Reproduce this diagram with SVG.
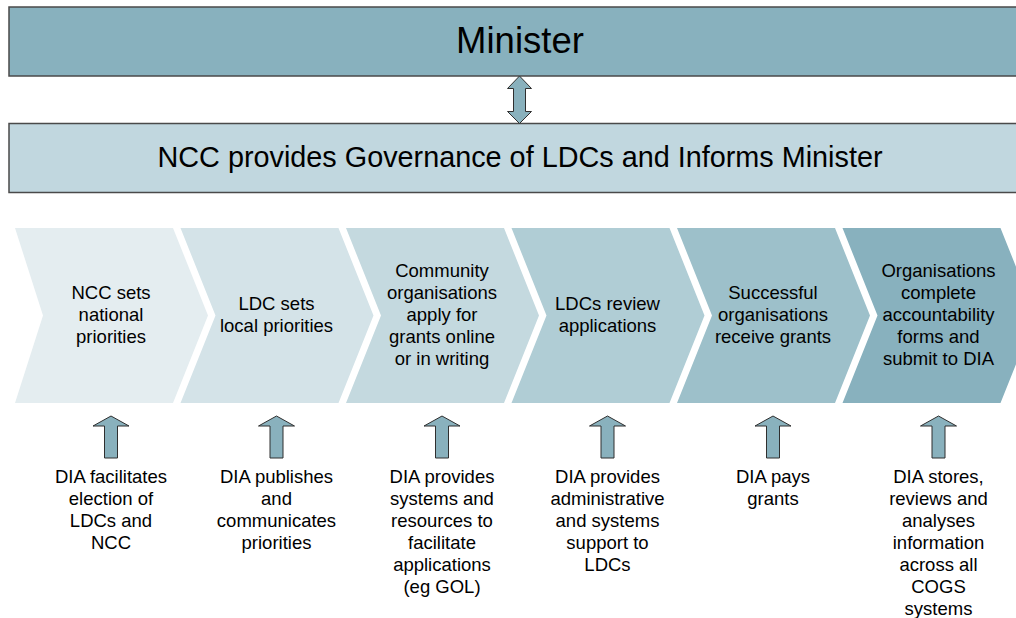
<svg xmlns="http://www.w3.org/2000/svg" width="1016" height="618" viewBox="0 0 1016 618">
<style>
text{font-family:"Liberation Sans",Arial,sans-serif;fill:#000;text-anchor:middle}
.bar{stroke:#4a4a4a;stroke-width:1.5}
.lbl{font-size:18.5px}
.arr{fill:#89b1bd;stroke:#2f2f2f;stroke-width:1}
</style>
<rect width="1016" height="618" fill="#fff"/>
<g id="minister">
<rect class="bar" x="9" y="7" width="1030" height="69" fill="#88b1be"/>
<text x="520" y="52.5" style="font-size:36.5px">Minister</text>
</g>
<g id="ncc">
<rect class="bar" x="9" y="123.5" width="1030" height="69" fill="#c1d7df"/>
<text x="520" y="167" style="font-size:28.8px">NCC provides Governance of LDCs and Informs Minister</text>
</g>
<g id="step1">
<polygon points="15,228 173,228 208,315.5 173,403 15,403 43,315.5" fill="#e4edf0"/>
<text class="lbl" x="111" y="299">NCC sets</text>
<text class="lbl" x="111" y="321">national</text>
<text class="lbl" x="111" y="343">priorities</text>
</g>
<g id="step2">
<polygon points="180.5,228 338.5,228 373.5,315.5 338.5,403 180.5,403 215.5,315.5" fill="#d4e3e8"/>
<text class="lbl" x="276.5" y="310">LDC sets</text>
<text class="lbl" x="276.5" y="332">local priorities</text>
</g>
<g id="step3">
<polygon points="346,228 504,228 539,315.5 504,403 346,403 381,315.5" fill="#c4d9df"/>
<text class="lbl" x="442" y="277">Community</text>
<text class="lbl" x="442" y="299">organisations</text>
<text class="lbl" x="442" y="321">apply for</text>
<text class="lbl" x="442" y="343">grants online</text>
<text class="lbl" x="442" y="365">or in writing</text>
</g>
<g id="step4">
<polygon points="511.5,228 669.5,228 704.5,315.5 669.5,403 511.5,403 546.5,315.5" fill="#b0cdd5"/>
<text class="lbl" x="607.5" y="310">LDCs review</text>
<text class="lbl" x="607.5" y="332">applications</text>
</g>
<g id="step5">
<polygon points="677,228 835,228 870,315.5 835,403 677,403 712,315.5" fill="#9dc0ca"/>
<text class="lbl" x="773" y="299">Successful</text>
<text class="lbl" x="773" y="321">organisations</text>
<text class="lbl" x="773" y="343">receive grants</text>
</g>
<g id="step6">
<polygon points="842.5,228 1000.5,228 1035.5,315.5 1000.5,403 842.5,403 877.5,315.5" fill="#88b1be"/>
<text class="lbl" x="938.5" y="277">Organisations</text>
<text class="lbl" x="938.5" y="299">complete</text>
<text class="lbl" x="938.5" y="321">accountability</text>
<text class="lbl" x="938.5" y="343">forms and</text>
<text class="lbl" x="938.5" y="365">submit to DIA</text>
</g>
<g id="connectors">
<polygon class="arr" points="519.5,76 531.5,88.5 525.5,88.5 525.5,111.5 531.5,111.5 519.5,123.5 507.5,111.5 513.5,111.5 513.5,88.5 507.5,88.5"/>
<polygon class="arr" points="111,416 129,426 117.5,426 117.5,458 104.5,458 104.5,426 93,426"/>
<polygon class="arr" points="276.5,416 294.5,426 283,426 283,458 270,458 270,426 258.5,426"/>
<polygon class="arr" points="442,416 460,426 448.5,426 448.5,458 435.5,458 435.5,426 424,426"/>
<polygon class="arr" points="607.5,416 625.5,426 614,426 614,458 601,458 601,426 589.5,426"/>
<polygon class="arr" points="773,416 791,426 779.5,426 779.5,458 766.5,458 766.5,426 755,426"/>
<polygon class="arr" points="938.5,416 956.5,426 945,426 945,458 932,458 932,426 920.5,426"/>
</g>
<g id="support1">
<text class="lbl" x="111" y="482.5">DIA facilitates</text>
<text class="lbl" x="111" y="504.5">election of</text>
<text class="lbl" x="111" y="526.5">LDCs and</text>
<text class="lbl" x="111" y="548.5">NCC</text>
</g>
<g id="support2">
<text class="lbl" x="276.5" y="482.5">DIA publishes</text>
<text class="lbl" x="276.5" y="504.5">and</text>
<text class="lbl" x="276.5" y="526.5">communicates</text>
<text class="lbl" x="276.5" y="548.5">priorities</text>
</g>
<g id="support3">
<text class="lbl" x="442" y="482.5">DIA provides</text>
<text class="lbl" x="442" y="504.5">systems and</text>
<text class="lbl" x="442" y="526.5">resources to</text>
<text class="lbl" x="442" y="548.5">facilitate</text>
<text class="lbl" x="442" y="570.5">applications</text>
<text class="lbl" x="442" y="592.5">(eg GOL)</text>
</g>
<g id="support4">
<text class="lbl" x="607.5" y="482.5">DIA provides</text>
<text class="lbl" x="607.5" y="504.5">administrative</text>
<text class="lbl" x="607.5" y="526.5">and systems</text>
<text class="lbl" x="607.5" y="548.5">support to</text>
<text class="lbl" x="607.5" y="570.5">LDCs</text>
</g>
<g id="support5">
<text class="lbl" x="773" y="482.5">DIA pays</text>
<text class="lbl" x="773" y="504.5">grants</text>
</g>
<g id="support6">
<text class="lbl" x="938.5" y="482.5">DIA stores,</text>
<text class="lbl" x="938.5" y="504.5">reviews and</text>
<text class="lbl" x="938.5" y="526.5">analyses</text>
<text class="lbl" x="938.5" y="548.5">information</text>
<text class="lbl" x="938.5" y="570.5">across all</text>
<text class="lbl" x="938.5" y="592.5">COGS</text>
<text class="lbl" x="938.5" y="614.5">systems</text>
</g>
</svg>
